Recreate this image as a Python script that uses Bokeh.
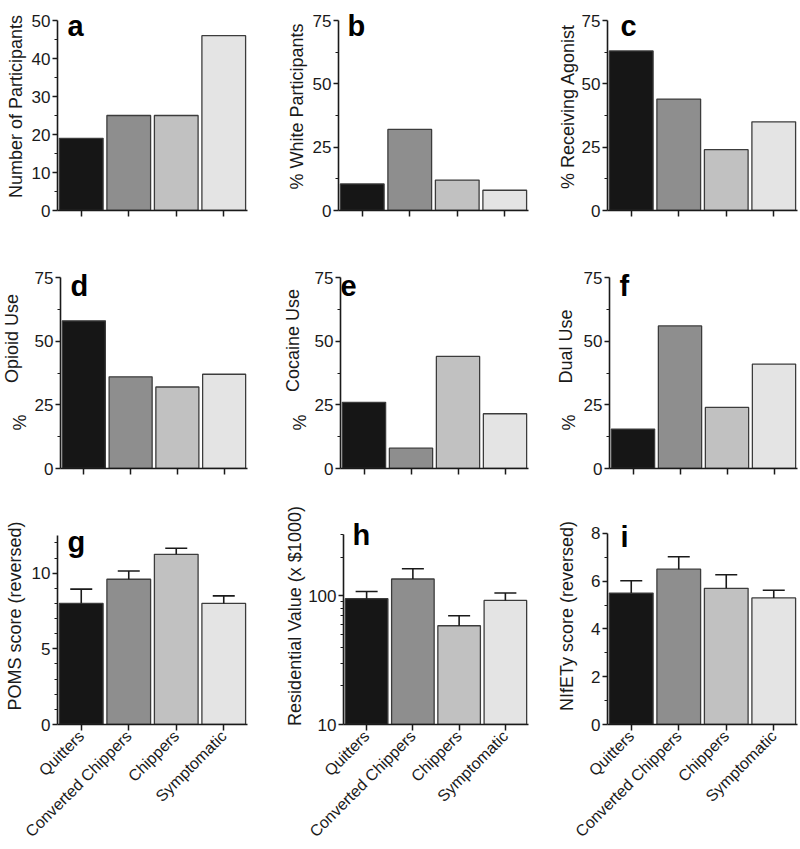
import math
from bokeh.plotting import figure
from bokeh.models import (FactorRange, Range1d, FixedTicker, Label, Whisker, TeeHead,
                          ColumnDataSource, BasicTickFormatter, CustomJSTickFormatter)
from bokeh.layouts import row, column
from bokeh.embed import file_html
from bokeh.resources import INLINE

# ---------------- data ----------------
groups = ["Quitters", "Converted Chippers", "Chippers", "Symptomatic"]
n_participants = [19, 25, 25, 46]
pct_white = [10.5, 32, 12, 8]
pct_agonist = [63, 44, 24, 35]
pct_opioid = [58, 36, 32, 37]
pct_cocaine = [26, 8, 44, 21.5]
pct_dual = [15.5, 56, 24, 41]
poms_mean = [8.0, 9.6, 11.25, 8.0]
poms_upper = [8.95, 10.15, 11.65, 8.5]
resid_mean = [95, 135, 58.5, 92]
resid_upper = [108, 162, 70, 105]
nifety_mean = [5.5, 6.5, 5.7, 5.3]
nifety_upper = [6.02, 7.02, 6.27, 5.62]

ticks_count = [0, 10, 20, 30, 40, 50]
minor_count = [5, 15, 25, 35, 45]
ticks_pct = [0, 25, 50, 75]
minor_pct = [12.5, 37.5, 62.5]
ticks_poms = [0, 5, 10]
minor_poms = [1, 2, 3, 4, 6, 7, 8, 9, 11, 12]
ticks_resid = [10, 100]
minor_resid = [20, 30, 40, 50, 60, 70, 80, 90, 200, 300]
ticks_nifety = [0, 2, 4, 6, 8]
minor_nifety = [1, 3, 5, 7]

bar_colors = ["#161616", "#8e8e8e", "#c1c1c1", "#e4e4e4"]

FONT = "Liberation Sans"
INK = "#1a1a1a"
FRAME_W = 190
TOP = 2
TICK_FS = "17px"
TITLE_FS = "18px"
XLAB_FS = "16px"


def strip(x0, x1, row_y0, row_h, frame_top, frame_bot, texts):
    """Narrow figure holding rotated y-axis titles; data coords == page pixels."""
    s = figure(width=x1 - x0, height=row_h,
               x_range=Range1d(x0, x1), y_range=Range1d(-frame_bot, -frame_top),
               x_axis_location=None, y_axis_location=None, output_backend="svg",
               toolbar_location=None, min_border_left=0, min_border_right=0,
               min_border_top=frame_top - row_y0, min_border_bottom=row_y0 + row_h - frame_bot)
    s.outline_line_color = None
    s.grid.visible = False
    for txt, px, py in texts:
        s.add_layout(Label(x=px, y=-py, text=txt, angle=math.pi / 2,
                           text_font=FONT, text_font_size=TITLE_FS, text_color=INK,
                           text_align="center", text_baseline="middle"))
    return s


def panel(width, height, left, right, top, bottom, axis_top_px, axis_bot_px,
          vbot, vtop, vals, upper, ylog, ticks, minor, letter, letter_page, axis_x, show_x,
          ytitle=None, ytitle_standoff=4):
    frame_top_px = axis_bot_px - (height - top - bottom)
    if ylog:
        lb, lt = math.log10(vbot), math.log10(vtop)
        ppu = (axis_bot_px - axis_top_px) / (lt - lb)
        yend = 10 ** (lt + (axis_top_px - frame_top_px) / ppu)
        letter_y = 10 ** (lb + (axis_bot_px - letter_page[1]) / ppu)
    else:
        ppu = (axis_bot_px - axis_top_px) / (vtop - vbot)
        yend = vtop + (axis_top_px - frame_top_px) / ppu
        letter_y = vbot + (axis_bot_px - letter_page[1]) / ppu
    p = figure(width=width, height=height,
               x_range=FactorRange(factors=groups, range_padding=0),
               y_range=Range1d(vbot, yend),
               y_axis_type="log" if ylog else "linear",
               output_backend="svg", toolbar_location=None,
               min_border_left=left, min_border_right=right,
               min_border_top=top, min_border_bottom=bottom)
    p.outline_line_color = None
    p.xgrid.visible = False
    p.ygrid.visible = False

    src = ColumnDataSource(dict(x=groups, top=vals, color=bar_colors,
                                upper=upper if upper is not None else vals))
    p.vbar(x="x", top="top", bottom=vbot, width=0.92, source=src,
           fill_color="color", line_color="#3c3c3c", line_width=1.3)
    if upper is not None:
        p.add_layout(Whisker(base="x", lower="top", upper="upper", source=src,
                             dimension="height", line_color=INK, line_width=1.6,
                             upper_head=TeeHead(size=22, line_color=INK, line_width=1.6),
                             lower_head=None, level="annotation"))

    ya = p.yaxis[0]
    ya.ticker = FixedTicker(ticks=ticks, minor_ticks=minor)
    ya.bounds = (vbot, vtop)
    if ylog:
        ya.formatter = BasicTickFormatter()
    ya.axis_line_color = INK
    ya.axis_line_width = 1.6
    ya.major_tick_line_color = INK
    ya.major_tick_line_width = 1.5
    ya.minor_tick_line_color = INK
    ya.minor_tick_line_width = 1.2
    ya.major_tick_in = 0
    ya.major_tick_out = 5
    ya.minor_tick_in = 0
    ya.minor_tick_out = 3
    ya.major_label_standoff = 2
    ya.major_label_text_font = FONT
    ya.major_label_text_font_size = TICK_FS
    ya.major_label_text_color = INK
    if ytitle is not None:
        ya.axis_label = ytitle
        ya.axis_label_text_font = FONT
        ya.axis_label_text_font_size = TITLE_FS
        ya.axis_label_text_font_style = "normal"
        ya.axis_label_text_color = INK
        ya.axis_label_standoff = ytitle_standoff

    xa = p.xaxis[0]
    xa.axis_line_color = INK
    xa.axis_line_width = 1.6
    xa.major_tick_line_color = INK
    xa.major_tick_line_width = 1.5
    xa.major_tick_in = 0
    xa.major_tick_out = 6
    xa.minor_tick_line_color = None
    if show_x:
        xa.major_label_orientation = math.pi / 4
        xa.major_label_text_font = FONT
        xa.major_label_text_font_size = XLAB_FS
        xa.major_label_text_color = INK
        xa.major_label_standoff = 3
    else:
        xa.formatter = CustomJSTickFormatter(code="return ''")

    p.add_layout(Label(x=letter_page[0] - axis_x, y=letter_y, x_units="screen", y_units="data",
                       text=letter, text_font=FONT, text_font_style="bold",
                       text_font_size="29px", text_color="black",
                       text_align="left", text_baseline="alphabetic"))
    return p


def full_cell(col_x0, col_x1, axis_x, row_y0, row_h, axis_top_px, axis_bot_px,
              vbot, vtop, vals, upper, ylog, ticks, minor, letter, letter_page, show_x,
              ytitle, standoff):
    left = axis_x - col_x0
    right = col_x1 - (axis_x + FRAME_W)
    bottom = row_y0 + row_h - axis_bot_px
    return panel(col_x1 - col_x0, row_h, left, right, TOP, bottom, axis_top_px, axis_bot_px,
                 vbot, vtop, vals, upper, ylog, ticks, minor, letter, letter_page, axis_x,
                 show_x, ytitle, standoff)


def strip_cell(col_x0, col_x1, split, axis_x, row_y0, row_h, axis_top_px, axis_bot_px,
               vbot, vtop, vals, upper, ylog, ticks, minor, letter, letter_page, titles):
    bottom = row_y0 + row_h - axis_bot_px
    st = strip(col_x0, split, row_y0, row_h, row_y0 + TOP, axis_bot_px, titles)
    left = axis_x - split
    right = col_x1 - (axis_x + FRAME_W)
    p = panel(col_x1 - split, row_h, left, right, TOP, bottom, axis_top_px, axis_bot_px,
              vbot, vtop, vals, upper, ylog, ticks, minor, letter, letter_page, axis_x, False)
    return row(st, p)


C1, C2, C3, C4 = 0, 282, 554, 798
R1, R2, R3 = 0, 250, 505
H1, H2, H3 = 250, 255, 344

ca = full_cell(C1, C2, 57, R1, H1, 20, 210, 0, 50, n_participants, None, False,
               ticks_count, minor_count, "a", (67, 25), False, "Number of Participants", 3)
cb = full_cell(C2, C3, 338, R1, H1, 20, 210, 0, 75, pct_white, None, False,
               ticks_pct, minor_pct, "b", (347, 25), False, "% White Participants", 3)
cc = full_cell(C3, C4, 607, R1, H1, 20, 210, 0, 75, pct_agonist, None, False,
               ticks_pct, minor_pct, "c", (620, 25), False, "% Receiving Agonist", 1)

cd = strip_cell(C1, C2, 31, 57, R2, H2, 277, 468, 0, 75, pct_opioid, None, False,
                ticks_pct, minor_pct, "d", (67, 285), [("Opioid Use", 11, 338), ("%", 19, 422)])
ce = strip_cell(C2, C3, 311, 338, R2, H2, 277, 468, 0, 75, pct_cocaine, None, False,
                ticks_pct, minor_pct, "e", (338, 285), [("Cocaine Use", 292, 340), ("%", 299, 422)])
cf = strip_cell(C3, C4, 580, 607, R2, H2, 277, 468, 0, 75, pct_dual, None, False,
                ticks_pct, minor_pct, "f", (617, 285), [("Dual Use", 565, 346), ("%", 568, 422)])

cg = full_cell(C1, C2, 57, R3, H3, 535, 725, 0, 12.5, poms_mean, poms_upper, False,
               ticks_poms, minor_poms, "g", (67, 542), True, "POMS score (reversed)", 4)
ch = full_cell(C2, C3, 338, R3, H3, 534, 725, 10, 300, resid_mean, resid_upper, True,
               ticks_resid, minor_resid, "h", (347, 535), True, "Residential Value (x $1000)", 0)
ci = full_cell(C3, C4, 607, R3, H3, 533, 725, 0, 8, nifety_mean, nifety_upper, False,
               ticks_nifety, minor_nifety, "i", (620, 537), True, "NIfETy score (reversed)", 11)

layout = column(row(ca, cb, cc), row(cd, ce, cf), row(cg, ch, ci))

with open("out.html", "w") as f:
    f.write(file_html(layout, INLINE))
